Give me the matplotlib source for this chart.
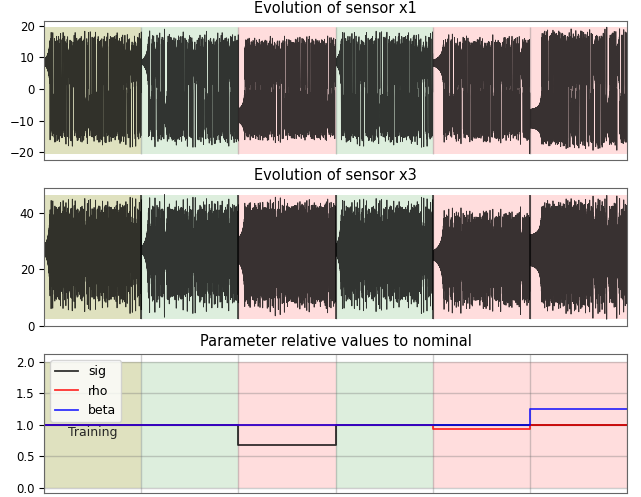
import numpy as np
import matplotlib.pyplot as plt

# Six consecutive runs of the Lorenz system; regime of each run and the
# parameter values relative to nominal.
states = ["training", "healthy", "faulty", "healthy", "faulty", "faulty"]
sig_rel = [1.0, 1.0, 0.67, 1.0, 1.0, 1.0]
rho_rel = [1.0, 1.0, 1.0, 1.0, 0.93, 1.0]
beta_rel = [1.0, 1.0, 1.0, 1.0, 1.0, 1.25]
start_lobe = [1, 1, -1, 1, 1, -1]  # wing each run starts next to
kick = [3.0, 2.0, 8.0, 3.0, 3.0, 11.0]  # initial offset from the fixed point

SIG0, RHO0, BETA0 = 10.0, 28.0, 8.0 / 3.0
run_length = 300.0
dt = 0.01

state_colors = {"training": "#dfe1bf", "healthy": "#ddeedd", "faulty": "#ffdddd"}


def lorenz_run(sig, rho, beta, start, n):
    """Integrate the Lorenz equations with a plain RK4 scheme."""

    def f(x, y, z):
        return sig * (y - x), x * (rho - z) - y, x * y - beta * z

    out = np.empty((n, 3))
    x, y, z = start
    h = dt
    for i in range(n):
        out[i] = (x, y, z)
        k1 = f(x, y, z)
        k2 = f(x + h / 2 * k1[0], y + h / 2 * k1[1], z + h / 2 * k1[2])
        k3 = f(x + h / 2 * k2[0], y + h / 2 * k2[1], z + h / 2 * k2[2])
        k4 = f(x + h * k3[0], y + h * k3[1], z + h * k3[2])
        x += h / 6 * (k1[0] + 2 * k2[0] + 2 * k3[0] + k4[0])
        y += h / 6 * (k1[1] + 2 * k2[1] + 2 * k3[1] + k4[1])
        z += h / 6 * (k1[2] + 2 * k2[2] + 2 * k3[2] + k4[2])
    return out


# Simulate each run starting near the fixed point of its own parameters
n_steps = int(run_length / dt)
traj = []
for s, r, b, lobe, dx in zip(sig_rel, rho_rel, beta_rel, start_lobe, kick):
    sig, rho, beta = SIG0 * s, RHO0 * r, BETA0 * b
    c = lobe * np.sqrt(beta * (rho - 1))
    traj.append(lorenz_run(sig, rho, beta, (c + lobe * dx, c, rho - 1), n_steps))
traj = np.vstack(traj)
t = np.arange(len(traj)) * dt
edges = np.arange(len(states) + 1) * run_length

plt.rcParams["xtick.labelsize"] = 8.5
plt.rcParams["ytick.labelsize"] = 8.5

fig = plt.figure(figsize=(6.41, 4.97), dpi=100)
ax1 = fig.add_axes([0.069, 0.678, 0.909, 0.280])
ax2 = fig.add_axes([0.069, 0.344, 0.909, 0.277])
ax3 = fig.add_axes([0.069, 0.0074, 0.909, 0.280])


def shade(ax, lo, hi):
    for k, st in enumerate(states):
        ax.fill_between([edges[k], edges[k + 1]], lo, hi,
                        color=state_colors[st], lw=0, zorder=0)


for ax, sensor, name, dark in [(ax1, 0, "x1", False), (ax2, 2, "x3", True)]:
    sig_data = traj[:, sensor]
    lo, hi = sig_data.min(), sig_data.max()
    shade(ax, lo, hi)
    ax.vlines(edges[1:-1], lo, hi, color="0.45", alpha=0.35, lw=1, zorder=1)
    ax.plot(t, sig_data, color="k", alpha=0.78, lw=0.6, zorder=2)
    if dark:
        ax.vlines(edges[1:-1], lo, hi, color="k", alpha=0.75, lw=1.2, zorder=3)
    ax.set_xlim(edges[0], edges[-1])
    ax.set_xticks([])
    ax.set_title(f"Evolution of sensor {name}", fontsize=10.5)

ax1.set_yticks([-20, -10, 0, 10, 20])
ax2.set_yticks([0, 20, 40])

# Parameter steps
shade(ax3, 0, 2)
for vals, label, color in [(sig_rel, "sig", "k"), (rho_rel, "rho", "r"),
                           (beta_rel, "beta", "b")]:
    ax3.step(edges, vals + vals[-1:], where="post", color=color,
             alpha=0.8, lw=1.3, label=label)
ax3.text((edges[0] + edges[1]) / 2, 0.87, "Training", ha="center",
         va="center", fontsize=9, color="0.15")
ax3.set_xlim(edges[0], edges[-1])
ax3.set_ylim(-0.09, 2.12)
ax3.set_xticks(edges)
ax3.set_yticks([0.0, 0.5, 1.0, 1.5, 2.0])
ax3.tick_params(axis="x", length=0, labelbottom=False)
ax3.grid(True, color="0.45", alpha=0.35, lw=1)
ax3.set_axisbelow(True)
ax3.legend(loc="upper left", fontsize=9, handlelength=1.8)
ax3.set_title("Parameter relative values to nominal", fontsize=10.5)

for ax in (ax1, ax2, ax3):
    for sp in ax.spines.values():
        sp.set_color("0.4")

fig.savefig("out.png", dpi=100)
